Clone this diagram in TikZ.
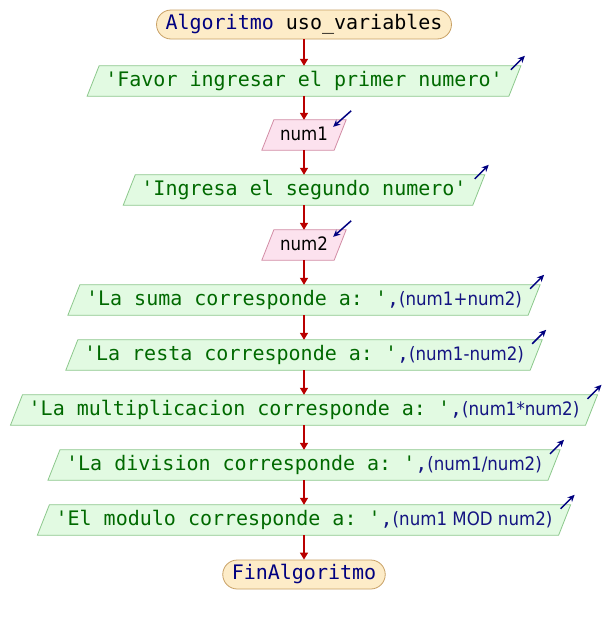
\documentclass[tikz,border=0pt]{standalone}
\usepackage{fontspec}
\setmonofont{DejaVu Sans Mono}
\setsansfont{DejaVu Sans}[FakeStretch=0.9]
\usetikzlibrary{calc,arrows.meta}
\pgfdeclarelayer{back}
\pgfdeclarelayer{bg}
\pgfsetlayers{back,bg,main}
\definecolor{strgreen}{RGB}{0,105,0}
\definecolor{exblue}{RGB}{20,20,130}
\definecolor{kwblue}{RGB}{0,0,128}
\definecolor{gfill}{RGB}{226,250,226}
\definecolor{gline}{RGB}{140,200,140}
\definecolor{pfill}{RGB}{252,226,238}
\definecolor{pline}{RGB}{210,140,165}
\definecolor{tfill}{RGB}{253,236,200}
\definecolor{tline}{RGB}{200,160,100}
\definecolor{arrred}{RGB}{185,0,0}
\definecolor{marknavy}{RGB}{0,0,128}
\newcommand\gs[1]{\textcolor{strgreen}{#1}}
\newcommand\ex[1]{{\sffamily\fontsize{18.5}{22}\selectfont\textcolor{exblue}{#1}}}
\newcommand\pgram[3]{%
  \begin{pgfonlayer}{bg}
  \draw[fill=#2,draw=#3,line width=0.8pt]
    ($(#1.north west)+(6pt,0)$) -- ($(#1.north east)+(6pt,0)$) --
    ($(#1.south east)+(-6pt,0)$) -- ($(#1.south west)+(-6pt,0)$) -- cycle;
  \end{pgfonlayer}}
\newcommand\outmark[1]{%
  \draw[outarrow] ($(#1.north east)+(-4pt,-4pt)$) -- ($(#1.north east)+(10pt,10pt)$);}
\newcommand\inmark[1]{%
  \draw[outarrow] ($(#1.north east)+(11pt,9pt)$) -- ($(#1.north east)+(-7pt,-7pt)$);}
\tikzset{
  txt/.style={font=\ttfamily\fontsize{20}{24}\selectfont, text height=15pt, text depth=5pt, inner ysep=0pt},
  term/.style={txt, draw=tline, fill=tfill, line width=0.8pt, rounded corners=14.5pt, minimum height=29pt, inner xsep=9pt},
  pbox/.style={txt, minimum height=30pt, inner xsep=12pt},
  ibox/.style={txt, minimum height=30pt, inner xsep=12pt},
  conn/.style={draw=arrred, line width=1.4pt, -{Triangle[length=7pt,width=8pt]}},
  outarrow/.style={draw=marknavy, line width=1.5pt, -{Stealth[length=7pt,width=6.5pt]}},
}
\begin{document}
\begin{tikzpicture}[x=1pt,y=-1pt]
\begin{pgfonlayer}{back}
\fill[white] (0,0) rectangle (608,625);
\end{pgfonlayer}
\useasboundingbox (0,0) rectangle (608,625);

\node[term] (start) at (304,24.5) {\textcolor{kwblue}{Algoritmo} uso\_variables};
\node[pbox] (b1) at (304,81) {\gs{'Favor ingresar el primer numero'}};
\node[ibox] (n1) at (304,135) {\sffamily\fontsize{18.5}{22}\selectfont num1};
\node[pbox] (b2) at (304,190) {\gs{'Ingresa el segundo numero'}};
\node[ibox] (n2) at (304,245) {\sffamily\fontsize{18.5}{22}\selectfont num2};
\node[pbox] (b3) at (304,300) {\gs{'La suma corresponde a: '}\textcolor{exblue}{,}\ex{(num1+num2)}};
\node[pbox] (b4) at (304,355) {\gs{'La resta corresponde a: '}\textcolor{exblue}{,}\ex{(num1-num2)}};
\node[pbox] (b5) at (304,410) {\gs{'La multiplicacion corresponde a: '}\textcolor{exblue}{,}\ex{(num1*num2)}};
\node[pbox] (b6) at (304,465) {\gs{'La division corresponde a: '}\textcolor{exblue}{,}\ex{(num1/num2)}};
\node[pbox] (b7) at (304,520) {\gs{'El modulo corresponde a: '}\textcolor{exblue}{,}\ex{(num1 MOD num2)}};
\node[term] (fin) at (304,574.5) {\textcolor{kwblue}{FinAlgoritmo}};

\foreach \n in {b1,b2,b3,b4,b5,b6,b7} {\pgram{\n}{gfill}{gline}}
\foreach \n in {n1,n2} {\pgram{\n}{pfill}{pline}}

\foreach \n in {b1,b2,b3,b4,b5,b6,b7} {\outmark{\n}}
\foreach \n in {n1,n2} {\inmark{\n}}

\draw[conn] (start.south) -- (b1.north);
\draw[conn] (b1.south) -- (n1.north);
\draw[conn] (n1.south) -- (b2.north);
\draw[conn] (b2.south) -- (n2.north);
\draw[conn] (n2.south) -- (b3.north);
\draw[conn] (b3.south) -- (b4.north);
\draw[conn] (b4.south) -- (b5.north);
\draw[conn] (b5.south) -- (b6.north);
\draw[conn] (b6.south) -- (b7.north);
\draw[conn] (b7.south) -- (fin.north);
\end{tikzpicture}
\end{document}
